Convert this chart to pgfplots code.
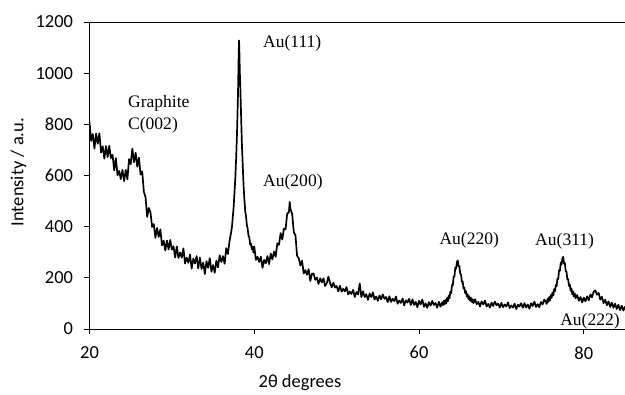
\documentclass[border=0pt]{standalone}
\usepackage{fontspec}
\setmainfont{Carlito}
\newfontfamily\tnr{Liberation Serif}
\usepackage{pgfplots}
\usepackage{pgfplotstable}
\pgfplotsset{compat=1.18}
\pgfplotstableread{
x y
20.0 810
20.2 735
20.4 762
20.6 705
20.8 764
21.0 724
21.2 765
21.4 690
21.6 714
21.8 666
22.0 715
22.2 672
22.4 716
22.6 668
22.8 681
23.0 620
23.2 668
23.4 601
23.6 618
23.8 586
24.0 622
24.2 578
24.4 622
24.6 585
24.8 664
25.0 644
25.2 705
25.4 652
25.6 689
25.8 634
26.0 670
26.2 604
26.4 616
26.6 536
26.8 516
27.0 438
27.2 473
27.4 456
27.6 399
27.8 410
28.0 356
28.2 395
28.4 360
28.6 389
28.8 327
29.0 345
29.2 307
29.4 346
29.6 311
29.8 348
30.0 311
30.2 323
30.4 279
30.6 323
30.8 278
31.0 299
31.2 279
31.4 315
31.6 256
31.8 279
32.0 259
32.2 291
32.4 236
32.6 275
32.8 256
33.0 285
33.2 237
33.4 279
33.6 235
33.8 259
34.0 215
34.2 265
34.4 239
34.6 277
34.8 224
35.0 250
35.2 220
35.4 267
35.6 241
35.8 288
36.0 262
36.2 285
36.4 255
36.6 316
36.8 293
37.0 344
37.1 362
37.2 380
37.3 402
37.4 440
37.5 478
37.6 535
37.7 590
37.8 668
37.9 760
38.0 885
38.05 960
38.1 1060
38.15 1128
38.2 1075
38.25 1000
38.3 955
38.4 835
38.5 722
38.6 640
38.7 560
38.8 508
38.9 462
39.0 440
39.1 408
39.2 392
39.3 365
39.4 358
39.5 330
39.6 334
39.7 312
39.8 322
39.9 298
40.0 322
40.2 270
40.4 282
40.6 262
40.8 283
41.0 239
41.2 270
41.4 257
41.6 285
41.8 254
42.0 295
42.2 272
42.4 303
42.6 282
42.8 335
43.0 329
43.2 375
43.4 350
43.6 392
43.8 390
44.0 452
44.2 455
44.3 497
44.4 468
44.6 450
44.8 378
45.0 366
45.2 285
45.4 277
45.6 248
45.8 267
46.0 217
46.2 230
46.4 212
46.6 234
46.8 188
47.0 216
47.2 217
47.4 192
47.6 201
47.8 176
48.0 198
48.2 182
48.4 198
48.6 168
48.8 179
49.0 205
49.2 180
49.4 163
49.6 181
49.8 162
50.0 168
50.2 147
50.4 169
50.6 146
50.8 157
51.0 147
51.2 164
51.4 135
51.6 146
51.8 137
52.0 153
52.2 125
52.4 145
52.6 135
52.8 178
53.0 125
53.2 147
53.4 125
53.6 136
53.8 114
54.0 139
54.2 125
54.4 143
54.6 115
54.8 127
55.0 110
55.2 131
55.4 116
55.6 135
55.8 118
56.0 125
56.2 105
56.4 128
56.6 106
56.8 118
57.0 109
57.2 127
57.4 99
57.6 111
57.8 102
58.0 119
58.2 92
58.4 112
58.6 103
58.8 118
59.0 94
59.2 116
59.4 94
59.6 106
59.8 85
60.0 110
60.2 96
60.4 115
60.6 87
60.8 100
61.0 83
61.2 105
61.4 91
61.6 110
61.8 94
62.0 102
62.2 83
62.4 107
62.6 87
62.8 104
62.9 93
63.0 110
63.1 96
63.2 114
63.3 100
63.4 121
63.5 108
63.6 131
63.7 120
63.8 146
63.9 140
64.0 172
64.1 170
64.2 205
64.3 206
64.4 240
64.5 236
64.6 262
64.7 268
64.8 245
64.9 246
65.0 216
65.1 214
65.2 184
65.3 186
65.4 158
65.5 162
65.6 140
65.7 148
65.8 127
65.9 136
66.0 117
66.1 128
66.2 110
66.3 122
66.4 106
66.5 117
66.6 101
66.8 116
67.0 97
67.2 106
67.4 88
67.6 108
67.8 96
68.0 111
68.2 88
68.4 98
68.6 84
68.8 103
69.0 90
69.2 107
69.4 93
69.6 99
69.8 84
70.0 102
70.2 85
70.4 96
70.6 88
70.8 104
71.0 82
71.2 92
71.4 84
71.6 99
71.8 78
72.0 95
72.2 88
72.4 101
72.6 83
72.8 101
73.0 84
73.2 96
73.4 79
73.6 101
73.8 90
74.0 107
74.2 86
74.4 97
74.6 85
74.8 106
75.0 96
75.2 115
75.4 105
75.5 98
75.6 118
75.7 106
75.8 125
75.9 112
76.0 133
76.1 122
76.2 143
76.3 131
76.4 156
76.5 148
76.6 173
76.7 168
76.8 197
76.9 196
77.0 230
77.1 228
77.2 260
77.3 252
77.4 276
77.5 282
77.6 255
77.7 258
77.8 226
77.9 225
78.0 194
78.1 195
78.2 168
78.3 174
78.4 149
78.5 158
78.6 136
78.7 147
78.8 127
78.9 139
79.0 120
79.2 133
79.4 110
79.6 125
79.8 104
80.0 122
80.2 108
80.4 128
80.6 112
80.8 135
81.0 124
81.2 146
81.4 151
81.6 134
81.8 141
82.0 115
82.2 126
82.4 101
82.6 114
82.8 93
83.0 108
83.2 86
83.4 103
83.6 83
83.8 99
84.0 78
84.2 95
84.4 74
84.6 91
84.8 72
85.0 88
}\xrd
\begin{document}
\begin{tikzpicture}
\begin{axis}[
  at={(0,0)}, anchor=south west,
  scale only axis,
  width=535.5bp, height=307bp,
  xmin=20, xmax=85, ymin=0, ymax=1200,
  xtick={20,40,60,80},
  ytick={0,200,400,600,800,1000,1200},
  axis x line*=bottom, axis y line*=left,
  axis line style={black, line width=0.8pt},
  tick align=outside,
  major tick length=5bp,
  tick style={black, line width=0.8pt},
  /pgf/number format/assume math mode=true,
  /pgf/number format/1000 sep={},
  ticklabel style={font=\fontsize{18.5}{20}\selectfont},
  yticklabel style={xshift=-8bp},
  xticklabel style={yshift=-9bp},
  xlabel={2θ degrees},
  ylabel={Intensity / a.u.},
  label style={font=\fontsize{18.5}{20}\selectfont},
  x label style={at={(axis description cs:0.393,0)}, anchor=center, yshift=-54bp},
  y label style={at={(axis description cs:-0.1326,0.511)}, anchor=center},
  clip=true,
]
\addplot[black, line width=1.7pt, line join=round] table[x=x, y=y] {\xrd};
\draw[black, line width=0.8pt] (rel axis cs:0,1) -- (rel axis cs:1,1);
\begin{scope}[every node/.style={font=\tnr\fontsize{17.6}{19}\selectfont, anchor=west, inner sep=0pt}]
\node at (axis cs:24.67,883) {Graphite};
\node at (axis cs:24.67,797) {C(002)};
\node at (axis cs:41.06,1118) {Au(111)};
\node at (axis cs:41.06,575) {Au(200)};
\node at (axis cs:62.46,348) {Au(220)};
\node at (axis cs:74.08,344) {Au(311)};
\node at (axis cs:77.12,31) {Au(222)};
\end{scope}
\end{axis}
\pgfresetboundingbox
\path (-89.5bp,-66bp) rectangle (535.5bp,329bp);
\end{tikzpicture}
\end{document}
